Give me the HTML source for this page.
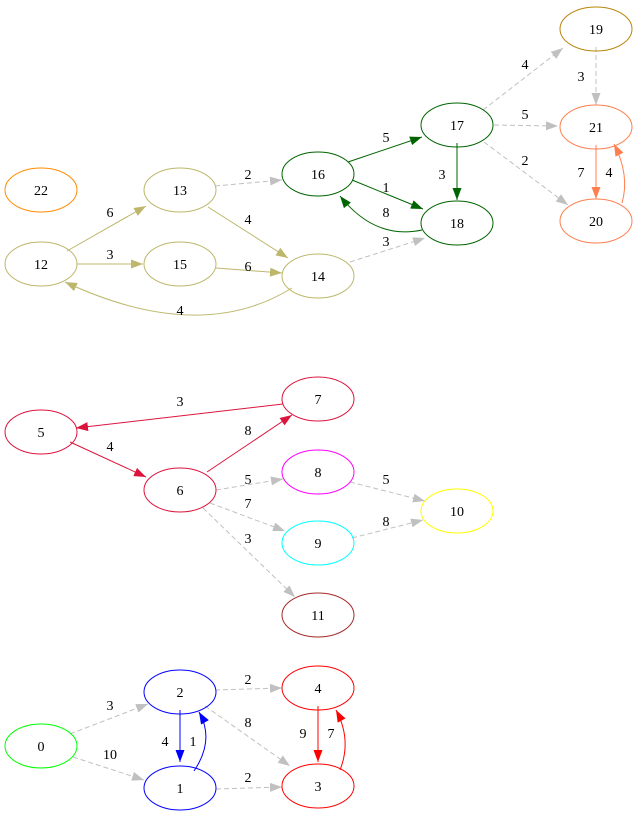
<!DOCTYPE html>
<html><head><meta charset="utf-8"><style>
html,body{margin:0;padding:0;background:#fff;}
svg text{font-family:"Liberation Serif",serif;font-size:14px;text-anchor:middle;}
</style></head><body>
<svg width="637" height="819" viewBox="0 0 637 819" xmlns="http://www.w3.org/2000/svg">
<defs>
<marker id="mk" markerWidth="12" markerHeight="9" refX="12" refY="4.5" orient="auto" markerUnits="userSpaceOnUse"><path d="M0,0L12,4.5L0,9z" fill="#bdb76b"/></marker>
<marker id="mg" markerWidth="12" markerHeight="9" refX="12" refY="4.5" orient="auto" markerUnits="userSpaceOnUse"><path d="M0,0L12,4.5L0,9z" fill="#006400"/></marker>
<marker id="mx" markerWidth="12" markerHeight="9" refX="12" refY="4.5" orient="auto" markerUnits="userSpaceOnUse"><path d="M0,0L12,4.5L0,9z" fill="#c0c0c0"/></marker>
<marker id="mc" markerWidth="12" markerHeight="9" refX="12" refY="4.5" orient="auto" markerUnits="userSpaceOnUse"><path d="M0,0L12,4.5L0,9z" fill="#ff7f50"/></marker>
<marker id="mr" markerWidth="12" markerHeight="9" refX="12" refY="4.5" orient="auto" markerUnits="userSpaceOnUse"><path d="M0,0L12,4.5L0,9z" fill="#dc143c"/></marker>
<marker id="mb" markerWidth="12" markerHeight="9" refX="12" refY="4.5" orient="auto" markerUnits="userSpaceOnUse"><path d="M0,0L12,4.5L0,9z" fill="#0000ff"/></marker>
<marker id="mR" markerWidth="12" markerHeight="9" refX="12" refY="4.5" orient="auto" markerUnits="userSpaceOnUse"><path d="M0,0L12,4.5L0,9z" fill="#ff0000"/></marker>
</defs>
<g fill="none" stroke-width="1">
<g stroke="#bdb76b">
<path d="M67,251L146,206" marker-end="url(#mk)"/>
<path d="M77,264L143,264" marker-end="url(#mk)"/>
<path d="M208,207L288,258" marker-end="url(#mk)"/>
<path d="M216,268L282,273" marker-end="url(#mk)"/>
<path d="M292,288Q200,345 65,282" marker-end="url(#mk)"/>
</g>
<g stroke="#c0c0c0" stroke-dasharray="5,3">
<path d="M215,186L282,180" marker-end="url(#mx)"/>
<path d="M350,262L425,238" marker-end="url(#mx)"/>
<path d="M483,110L563,48" marker-end="url(#mx)"/>
<path d="M494,125L558,126" marker-end="url(#mx)"/>
<path d="M484,142L568,205" marker-end="url(#mx)"/>
<path d="M596,47L596,105" marker-end="url(#mx)"/>
<path d="M216,490L283,479" marker-end="url(#mx)"/>
<path d="M210,503L285,531" marker-end="url(#mx)"/>
<path d="M203,508L295,597" marker-end="url(#mx)"/>
<path d="M350,482L425,501" marker-end="url(#mx)"/>
<path d="M352,538L423,520" marker-end="url(#mx)"/>
<path d="M70,734L148,704" marker-end="url(#mx)"/>
<path d="M73,757L144,780" marker-end="url(#mx)"/>
<path d="M215,690L282,688" marker-end="url(#mx)"/>
<path d="M205,706L290,766" marker-end="url(#mx)"/>
<path d="M216,789L282,787" marker-end="url(#mx)"/>
</g>
<g stroke="#006400">
<path d="M348,162L422,137" marker-end="url(#mg)"/>
<path d="M352,180L423,209" marker-end="url(#mg)"/>
<path d="M422,230Q375,240 340,196" marker-end="url(#mg)"/>
<path d="M457,143L457,200" marker-end="url(#mg)"/>
</g>
<g stroke="#ff7f50">
<path d="M596,145L596,199" marker-end="url(#mc)"/>
<path d="M622,203Q630,175 614,144" marker-end="url(#mc)"/>
</g>
<g stroke="#dc143c">
<path d="M283,404L76,428" marker-end="url(#mr)"/>
<path d="M70,442L146,477" marker-end="url(#mr)"/>
<path d="M207,472L292,415" marker-end="url(#mr)"/>
</g>
<g stroke="#0000ff">
<path d="M180,710L180,762" marker-end="url(#mb)"/>
<path d="M194,771Q215,740 199,712" marker-end="url(#mb)"/>
</g>
<g stroke="#ff0000">
<path d="M318,706L318,762" marker-end="url(#mR)"/>
<path d="M340,770Q352,740 336,710" marker-end="url(#mR)"/>
</g>
<ellipse cx="41" cy="190" rx="36" ry="22" stroke="#ff8c00"/>
<ellipse cx="41" cy="264" rx="36" ry="22" stroke="#bdb76b"/>
<ellipse cx="180" cy="190" rx="36" ry="22" stroke="#bdb76b"/>
<ellipse cx="180" cy="264" rx="36" ry="22" stroke="#bdb76b"/>
<ellipse cx="318" cy="276" rx="36" ry="22" stroke="#bdb76b"/>
<ellipse cx="318" cy="174" rx="36" ry="22" stroke="#006400"/>
<ellipse cx="457" cy="125" rx="36" ry="22" stroke="#006400"/>
<ellipse cx="457" cy="223" rx="36" ry="22" stroke="#006400"/>
<ellipse cx="596" cy="29" rx="36" ry="22" stroke="#b8860b"/>
<ellipse cx="596" cy="127" rx="36" ry="22" stroke="#ff7f50"/>
<ellipse cx="596" cy="221" rx="36" ry="22" stroke="#ff7f50"/>
<ellipse cx="318" cy="399" rx="36" ry="22" stroke="#dc143c"/>
<ellipse cx="41" cy="432" rx="36" ry="22" stroke="#dc143c"/>
<ellipse cx="180" cy="490" rx="36" ry="22" stroke="#dc143c"/>
<ellipse cx="318" cy="472" rx="36" ry="22" stroke="#ff00ff"/>
<ellipse cx="318" cy="543" rx="36" ry="22" stroke="#00ffff"/>
<ellipse cx="457" cy="511" rx="36" ry="22" stroke="#ffff00"/>
<ellipse cx="318" cy="615" rx="36" ry="22" stroke="#a52a2a"/>
<ellipse cx="180" cy="692" rx="36" ry="22" stroke="#0000ff"/>
<ellipse cx="41" cy="746" rx="36" ry="22" stroke="#00ff00"/>
<ellipse cx="180" cy="788" rx="36" ry="22" stroke="#0000ff"/>
<ellipse cx="318" cy="688" rx="36" ry="22" stroke="#ff0000"/>
<ellipse cx="318" cy="786" rx="36" ry="22" stroke="#ff0000"/>
</g>
<g fill="#000">
<text x="41" y="195">22</text><text x="41" y="269">12</text><text x="180" y="195">13</text>
<text x="180" y="269">15</text><text x="318" y="281">14</text><text x="318" y="179">16</text>
<text x="457" y="130">17</text><text x="457" y="228">18</text><text x="596" y="34">19</text>
<text x="596" y="132">21</text><text x="596" y="226">20</text><text x="318" y="404">7</text>
<text x="41" y="437">5</text><text x="180" y="495">6</text><text x="318" y="477">8</text>
<text x="318" y="548">9</text><text x="457" y="516">10</text><text x="318" y="620">11</text>
<text x="180" y="697">2</text><text x="41" y="751">0</text><text x="180" y="793">1</text>
<text x="318" y="693">4</text><text x="318" y="791">3</text>
<text x="110" y="217">6</text><text x="110" y="259">3</text><text x="248" y="224">4</text>
<text x="248" y="271">6</text><text x="180" y="315">4</text><text x="248" y="179">2</text>
<text x="386" y="246">3</text><text x="386" y="142">5</text><text x="386" y="192">1</text>
<text x="386" y="217">8</text><text x="442" y="179">3</text><text x="525" y="69">4</text>
<text x="525" y="119">5</text><text x="525" y="165">2</text><text x="581" y="81">3</text>
<text x="581" y="177">7</text><text x="609" y="177">4</text>
<text x="180" y="406">3</text><text x="110" y="451">4</text><text x="248" y="435">8</text>
<text x="248" y="484">5</text><text x="248" y="508">7</text><text x="248" y="543">3</text>
<text x="386" y="484">5</text><text x="386" y="526">8</text>
<text x="110" y="710">3</text><text x="110" y="759">10</text><text x="165" y="746">4</text>
<text x="193" y="746">1</text><text x="248" y="684">2</text><text x="248" y="727">8</text>
<text x="248" y="782">2</text><text x="303" y="738">9</text><text x="331" y="738">7</text>
</g>
</svg>
</body></html>
